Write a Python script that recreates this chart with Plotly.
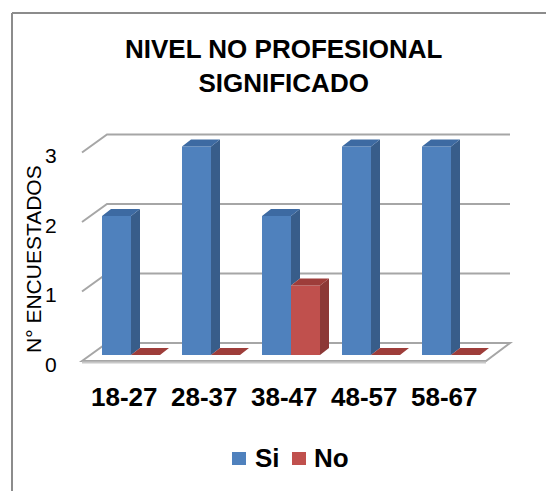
import plotly.graph_objects as go

# Survey counts per age group
categories = ["18-27", "28-37", "38-47", "48-57", "58-67"]
si_values = [2, 3, 2, 3, 3]
no_values = [0, 0, 1, 0, 0]
y_ticks = [0, 1, 2, 3]
series_names = ["Si", "No"]

# Pixel scale of the axes (px per category step / px per unit)
PX_X = 80.0
PX_Y = 69.5
W, H = 546, 491
X0_PX, Y0_PX = 131.0, 355.0   # first group centre, value 0 on bar front faces

FONT = "Liberation Sans, Arial, sans-serif"
BLUE = dict(front="#4F81BD", side="#385D8A", top="#3D6AA2")
RED = dict(front="#C0504D", side="#8C3836", top="#9E3D3A")


def dxu(px):
    return px / PX_X


def dyu(px):
    return px / PX_Y


BAR_W = dxu(29)
DEPTH_X, DEPTH_Y = dxu(9), dyu(7)     # bar depth
FRONT_DY = dyu(-6)                    # floor front edge relative to bar fronts
BACK_DY = dyu(12)                     # back wall relative to bar fronts

x_left_front = dxu(82 - X0_PX)
x_left_back = dxu(107 - X0_PX)
x_right_back = dxu(510 - X0_PX)
x_right_front = dxu(486 - X0_PX)

fig = go.Figure()
shapes = []

# Floor
shapes.append(dict(
    type="path", layer="below", xref="x", yref="y",
    path=(f"M{x_left_front},{FRONT_DY} L{x_left_back},{BACK_DY} "
          f"L{x_right_back},{BACK_DY} L{x_right_front},{FRONT_DY} Z"),
    fillcolor="white", line=dict(color="#A6A6A6", width=2)))
shapes.append(dict(type="line", layer="below", xref="x", yref="y",
                   x0=x_left_front, y0=FRONT_DY - dyu(1.5), x1=x_right_front,
                   y1=FRONT_DY - dyu(1.5), line=dict(color="#C8C8C8", width=2)))

# Back wall gridlines with the left-wall diagonal
for v in y_ticks[1:]:
    shapes.append(dict(type="path", layer="below", xref="x", yref="y",
                       path=(f"M{x_left_front},{v + FRONT_DY} L{x_left_back},{v + BACK_DY} "
                             f"L{x_right_back},{v + BACK_DY}"),
                       line=dict(color="#A6A6A6", width=2)))


def add_series(name, values, offset, colors, cover=None):
    xs = [i + offset for i in range(len(values))]
    fig.add_trace(go.Bar(x=xs, y=values, width=BAR_W, name=name,
                         marker=dict(color=colors["front"], line=dict(width=0)),
                         hoverinfo="skip", showlegend=False))
    sx, sy, tx, ty = [], [], [], []
    for k, (x, v) in enumerate(zip(xs, values)):
        xl, xr = x - BAR_W / 2, x + BAR_W / 2
        base = 0
        if cover is not None:
            base = min(cover[k], v)       # part hidden behind the neighbouring bar
        if v > base:
            sx += [xr, xr, xr + DEPTH_X, xr + DEPTH_X, xr, None]
            sy += [base, v, v + DEPTH_Y, base + DEPTH_Y, base, None]
        tx += [xl, xr, xr + DEPTH_X, xl + DEPTH_X, xl, None]
        ty += [v, v, v + DEPTH_Y, v + DEPTH_Y, v, None]
    if sx:
        fig.add_trace(go.Scatter(x=sx, y=sy, mode="lines", fill="toself",
                                 fillcolor=colors["side"],
                                 line=dict(width=0, color=colors["side"]),
                                 hoverinfo="skip", showlegend=False))
    fig.add_trace(go.Scatter(x=tx, y=ty, mode="lines", fill="toself",
                             fillcolor=colors["top"],
                             line=dict(width=0, color=colors["top"]),
                             hoverinfo="skip", showlegend=False))


add_series(series_names[0], si_values, -BAR_W / 2, BLUE, cover=no_values)
add_series(series_names[1], no_values, BAR_W / 2, RED)

# Value labels on the left wall
for v in y_ticks:
    fig.add_annotation(x=dxu(59 - X0_PX), y=v + FRONT_DY - dyu(3), text=str(v),
                       showarrow=False, xanchor="right", yanchor="middle",
                       font=dict(family=FONT, size=21, color="black"))

# Category labels
for i, c in enumerate(categories):
    fig.add_annotation(x=i - dxu(7), y=dyu(Y0_PX - 397), text=c, showarrow=False,
                       xanchor="center", yanchor="middle",
                       font=dict(family=FONT, size=26, color="black", weight="bold"))

# Axis title
fig.add_annotation(x=dxu(33 - X0_PX), y=dyu(Y0_PX - 259), text="N° ENCUESTADOS",
                   textangle=-90, showarrow=False, xanchor="center", yanchor="middle",
                   font=dict(family=FONT, size=21, color="black"))

# Chart title
fig.add_annotation(x=283 / W, y=1 - 66 / H, xref="paper", yref="paper",
                   text="NIVEL NO PROFESIONAL<br>SIGNIFICADO",
                   showarrow=False, xanchor="center", yanchor="middle", align="center",
                   font=dict(family=FONT, size=26, color="black", weight="bold"))

# Legend keys
for name, colors, sq_left, txt_left in [(series_names[0], BLUE, 232, 253),
                                        (series_names[1], RED, 292, 312)]:
    shapes.append(dict(type="rect", xref="paper", yref="paper",
                       x0=sq_left / W, x1=(sq_left + 14) / W,
                       y0=1 - 465 / H, y1=1 - 452 / H,
                       fillcolor=colors["front"], line=dict(width=0)))
    fig.add_annotation(x=txt_left / W, y=1 - 458 / H, xref="paper", yref="paper",
                       text=name, showarrow=False, xanchor="left", yanchor="middle",
                       font=dict(family=FONT, size=26, color="black", weight="bold"))

# Chart frame (left and top edges)
fx, fy = 12 / W, 1 - 13 / H
shapes.append(dict(type="line", xref="paper", yref="paper", x0=fx, y0=0, x1=fx, y1=fy,
                   line=dict(color="#8C8C8C", width=2)))
shapes.append(dict(type="line", xref="paper", yref="paper", x0=fx, y0=fy, x1=1, y1=fy,
                   line=dict(color="#8C8C8C", width=2)))

fig.update_layout(
    width=W, height=H, autosize=False,
    margin=dict(l=0, r=0, t=0, b=0, pad=0),
    paper_bgcolor="white", plot_bgcolor="white",
    barmode="overlay",
    xaxis=dict(range=[dxu(-X0_PX), dxu(W - X0_PX)], visible=False, fixedrange=True),
    yaxis=dict(range=[dyu(Y0_PX - H), dyu(Y0_PX)], visible=False, fixedrange=True),
    shapes=shapes,
    showlegend=False,
)

fig.write_html("out.html")
